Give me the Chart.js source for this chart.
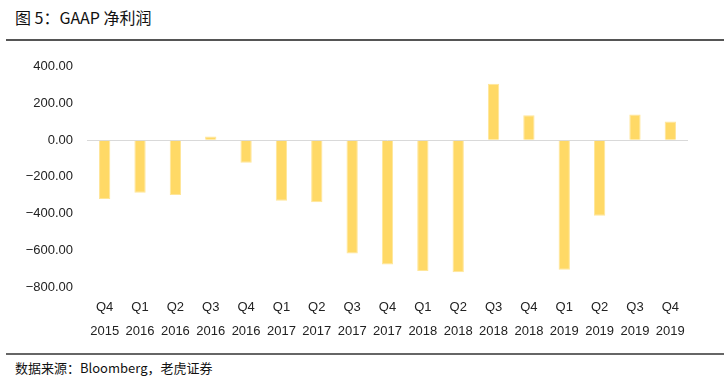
<!DOCTYPE html>
<html>
<head>
<meta charset="utf-8">
<script src="https://cdn.jsdelivr.net/npm/chart.js@4.4.0/dist/chart.umd.min.js"></script>
<style>
  html, body { margin: 0; padding: 0; background: #fff; }
  #wrap { position: relative; width: 724px; height: 388px; overflow: hidden; }
  #title { position: absolute; left: 15px; top: 7px; font: 16px "Noto Sans CJK SC", sans-serif; color: #111; line-height: 20px; }
  #topline { position: absolute; left: 6px; right: 0; top: 39px; height: 2px; background: #555; }
  #botline { position: absolute; left: 6px; right: 0; top: 353px; height: 2px; background: #666; }
  #source { position: absolute; left: 15px; top: 359px; font: 13px "Noto Sans CJK SC", sans-serif; color: #111; line-height: 18px; }
  #box { position: absolute; left: 0; top: 45px; width: 724px; height: 305px; }
</style>
</head>
<body>
<div id="wrap">
  <div id="title">图 5：GAAP 净利润</div>
  <div id="topline"></div>
  <div id="box"><canvas id="c"></canvas></div>
  <div id="botline"></div>
  <div id="source">数据来源：Bloomberg，老虎证券</div>
</div>
<script>
// quarters and years (two-line tick labels)
var quarters = ['Q4','Q1','Q2','Q3','Q4','Q1','Q2','Q3','Q4','Q1','Q2','Q3','Q4','Q1','Q2','Q3','Q4'];
var years = ['2015','2016','2016','2016','2016','2017','2017','2017','2017','2018','2018','2018','2018','2019','2019','2019','2019'];
// GAAP net income
var netIncome = [-320, -287, -298, 20, -123, -330, -338, -617, -677, -713, -720, 308, 136, -706, -412, 140, 102];

var labels = quarters.map(function(q, i){ return [q, years[i]]; });

var ctx = document.getElementById('c').getContext('2d');
window.gaapChart = new Chart(ctx, {
  type: 'bar',
  data: {
    labels: labels,
    datasets: [{
      data: netIncome,
      backgroundColor: '#FFD966',
      borderColor: '#FFE699',
      borderWidth: 1,
      categoryPercentage: 1,
      barPercentage: 0.32
    }]
  },
  options: {
    responsive: true,
    maintainAspectRatio: false,
    animation: false,
    layout: { padding: { top: 5, right: 36, bottom: 0, left: 0 } },
    plugins: { legend: { display: false }, tooltip: { enabled: false } },
    scales: {
      x: {
        afterFit: function(scale){ scale.height = 63; },
        grid: { display: false, drawTicks: false },
        border: { display: false },
        ticks: {
          color: '#222',
          padding: 8,
          maxRotation: 0,
          autoSkip: false,
          font: { family: '"Liberation Sans", Arial, sans-serif', size: 13, lineHeight: 1.85 }
        }
      },
      y: {
        min: -800,
        max: 400,
        afterFit: function(scale){ scale.width = 87; },
        grid: {
          color: function(c){ return c.tick && c.tick.value === 0 ? '#d9d9d9' : 'rgba(0,0,0,0)'; },
          drawTicks: false
        },
        border: { display: false },
        ticks: {
          stepSize: 200,
          color: '#222',
          padding: 14,
          font: { family: '"Liberation Sans", Arial, sans-serif', size: 13 },
          callback: function(v){ return v.toFixed(2).replace('-', '\u2212'); }
        }
      }
    }
  }
});
</script>
</body>
</html>
